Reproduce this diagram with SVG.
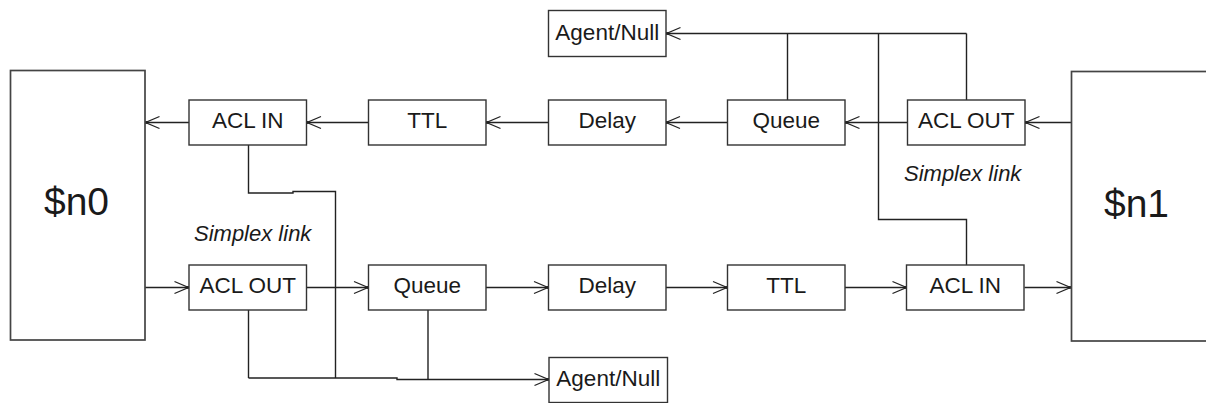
<svg xmlns="http://www.w3.org/2000/svg" width="1206" height="403" viewBox="0 0 1206 403">
<style>
.box{fill:#fff;stroke:#333;stroke-width:1.4}
.big{fill:#fff;stroke:#444;stroke-width:1.7}
.lbl{font-family:"Liberation Sans",Arial,sans-serif;font-size:22.5px;fill:#1a1a1a;text-anchor:middle}
.node{font-family:"Liberation Sans",Arial,sans-serif;font-size:39px;fill:#1a1a1a;text-anchor:middle}
.note{font-family:"Liberation Sans",Arial,sans-serif;font-size:22px;font-style:italic;fill:#1a1a1a}
.ln{fill:none;stroke:#222;stroke-width:1.4}
.arr{fill:none;stroke:#222;stroke-width:1.4;marker-end:url(#ah)}
</style>
<defs>
<marker id="ah" markerUnits="userSpaceOnUse" markerWidth="20" markerHeight="16" refX="15" refY="8" orient="auto" viewBox="0 0 20 16">
<path d="M1,2 L15,8 L1,14" fill="none" stroke="#222" stroke-width="1.3"/>
<circle cx="14.5" cy="8" r="1.4" fill="#222"/>
</marker>
</defs>
<rect width="1206" height="403" fill="#fff"/>

<g id="connectors">
<!-- top row, right to left -->
<path class="arr" d="M1071,122.5 H1025.5"/>
<path class="arr" d="M907.5,122.5 H845.5"/>
<path class="arr" d="M727.5,122.5 H666"/>
<path class="arr" d="M548.5,122.5 H486.5"/>
<path class="arr" d="M368.5,122.5 H307"/>
<path class="arr" d="M189,122.5 H145.5"/>
<!-- bottom row, left to right -->
<path class="arr" d="M145,287.5 H188.5"/>
<path class="arr" d="M306.5,287.5 H368"/>
<path class="arr" d="M486,287.5 H548"/>
<path class="arr" d="M666,287.5 H727"/>
<path class="arr" d="M845,287.5 H906.5"/>
<path class="arr" d="M1024.5,287.5 H1070.5"/>
<!-- top agent branch -->
<path class="ln" d="M787.5,100 V33.5"/>
<path class="ln" d="M966.5,100 V33.5"/>
<path class="arr" d="M966.5,33.5 H666.5"/>
<path class="ln" d="M878.5,33.5 V219.5 H966.5 V265"/>
<!-- bottom agent branch -->
<path class="ln" d="M248.5,145 V193 H293 V191.5 H335.5 V378"/>
<path class="ln" d="M248.5,310 V378"/>
<path class="arr" d="M248.5,378 H397 V379.5 H548.5"/>
<path class="ln" d="M428,310 V379.5"/>
</g>

<g id="n0">
<rect class="big" x="10.5" y="70.5" width="134.5" height="269.5"/>
<text class="node" x="76.5" y="215">$n0</text>
</g>
<g id="n1">
<rect class="big" x="1071.5" y="71.5" width="200" height="269.5"/>
<text class="node" x="1136.5" y="216.5">$n1</text>
</g>

<g id="acl_in_top">
<rect class="box" x="189" y="100" width="117.5" height="45"/>
<text class="lbl" x="247.75" y="128">ACL IN</text>
</g>
<g id="ttl_top">
<rect class="box" x="368.5" y="100" width="117.5" height="45"/>
<text class="lbl" x="427.25" y="128">TTL</text>
</g>
<g id="delay_top">
<rect class="box" x="548.5" y="100" width="117.5" height="45"/>
<text class="lbl" x="607.25" y="128">Delay</text>
</g>
<g id="queue_top">
<rect class="box" x="727.5" y="100" width="117.5" height="45"/>
<text class="lbl" x="786.25" y="128">Queue</text>
</g>
<g id="acl_out_top">
<rect class="box" x="907.5" y="100" width="117.5" height="45"/>
<text class="lbl" x="966.25" y="128">ACL OUT</text>
</g>

<g id="acl_out_bottom">
<rect class="box" x="189" y="265" width="117.5" height="45"/>
<text class="lbl" x="247.75" y="293">ACL OUT</text>
</g>
<g id="queue_bottom">
<rect class="box" x="368.5" y="265" width="117.5" height="45"/>
<text class="lbl" x="427.25" y="293">Queue</text>
</g>
<g id="delay_bottom">
<rect class="box" x="548.5" y="265" width="117.5" height="45"/>
<text class="lbl" x="607.25" y="293">Delay</text>
</g>
<g id="ttl_bottom">
<rect class="box" x="727.5" y="265" width="117.5" height="45"/>
<text class="lbl" x="786.25" y="293">TTL</text>
</g>
<g id="acl_in_bottom">
<rect class="box" x="906.5" y="265" width="117.5" height="45"/>
<text class="lbl" x="965.25" y="293">ACL IN</text>
</g>

<g id="agent_top">
<rect class="box" x="548.5" y="10.5" width="117.5" height="46"/>
<text class="lbl" x="607.25" y="39.5">Agent/Null</text>
</g>
<g id="agent_bottom">
<rect class="box" x="549" y="357.5" width="118.5" height="45"/>
<text class="lbl" x="608.25" y="386">Agent/Null</text>
</g>

<g id="notes">
<text class="note" x="194" y="241">Simplex link</text>
<text class="note" x="904" y="181">Simplex link</text>
</g>
</svg>
